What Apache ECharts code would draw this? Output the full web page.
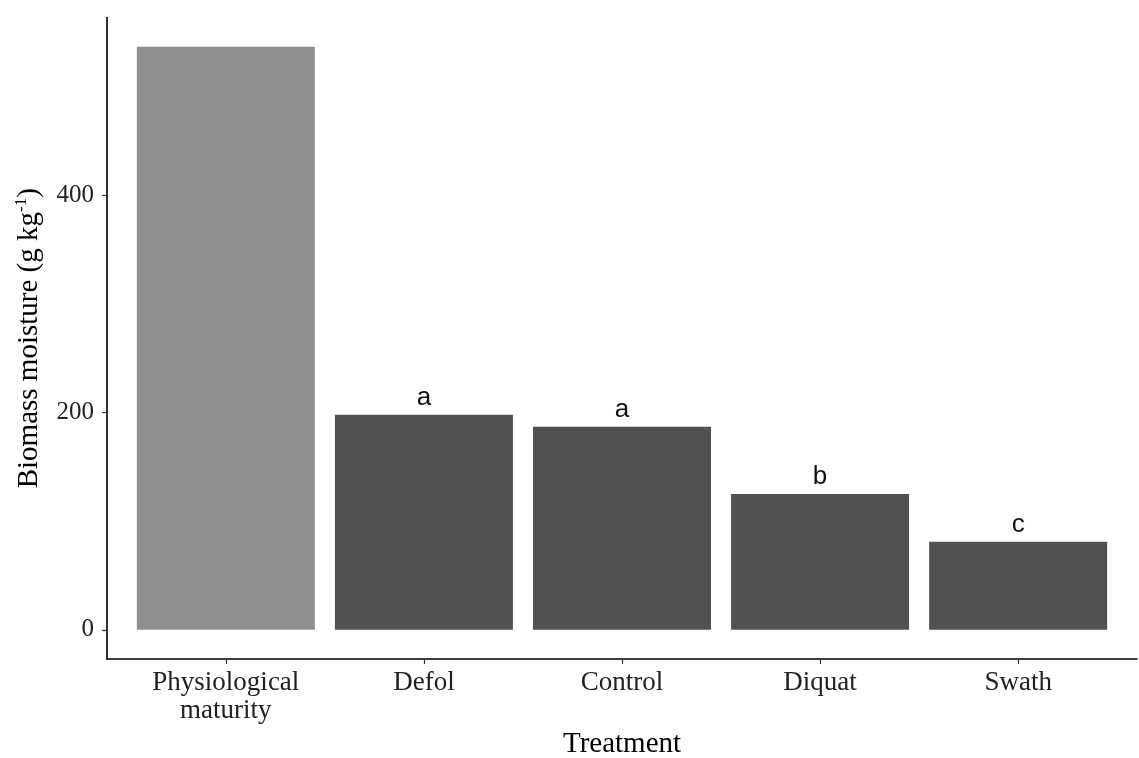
<!DOCTYPE html>
<html>
<head>
<meta charset="utf-8">
<script src="https://cdn.jsdelivr.net/npm/echarts@6/dist/echarts.min.js"></script>
<style>html,body{margin:0;padding:0;background:#fff;}#chart{width:1139px;height:758px;}</style>
</head>
<body>
<div id="chart"></div>
<script>
const categories = ['Physiological\nmaturity', 'Defol', 'Control', 'Diquat', 'Swath'];
const moisture = [537, 198, 187, 125, 81];
const letters = ['', 'a', 'a', 'b', 'c'];
const yTicks = [0, 200, 400];

const serif = '"Liberation Serif", "Times New Roman", serif';
const sans = '"Liberation Sans", Arial, sans-serif';
const xPos = categories.map((c, i) => i + 1);
const yMax = Math.max(...moisture);
const yPad = yMax * 0.05;

const chart = echarts.init(document.getElementById('chart'), null, {renderer: 'canvas'});
chart.setOption({
  animation: false,
  backgroundColor: '#ffffff',
  grid: {left: 107, right: 2, top: 17.5, bottom: 99, containLabel: false, outerBoundsMode: 'none'},
  xAxis: {
    type: 'value', min: 0.4, max: categories.length + 0.6,
    name: 'Treatment', nameLocation: 'middle', nameGap: 66,
    nameTextStyle: {fontFamily: serif, fontSize: 29, color: '#000'},
    splitLine: {show: false},
    axisLine: {onZero: false, lineStyle: {color: '#000', width: 1.6}},
    axisTick: {customValues: xPos, length: 5, lineStyle: {color: '#333', width: 1.2}},
    axisLabel: {customValues: xPos, margin: 10, fontFamily: serif, fontSize: 27, color: '#222', lineHeight: 28,
      formatter: v => categories[Math.round(v) - 1] || ''}
  },
  yAxis: {
    type: 'value', min: -yPad, max: yMax + yPad,
    name: '{a|Biomass moisture (g kg}{s|-1}{a|)}', nameLocation: 'middle', nameGap: 62, nameRotate: 90,
    nameTextStyle: {rich: {
      a: {fontFamily: serif, fontSize: 29, color: '#000', lineHeight: 32},
      s: {fontFamily: serif, fontSize: 17, color: '#000', verticalAlign: 'top', lineHeight: 32, padding: [0, 0, 12, 0]}
    }},
    splitLine: {show: false},
    axisLine: {show: true, onZero: false, lineStyle: {color: '#000', width: 1.6}},
    axisTick: {show: true, customValues: yTicks, length: 5, lineStyle: {color: '#333', width: 1.2}},
    axisLabel: {customValues: yTicks, margin: 13, fontFamily: serif, fontSize: 25, color: '#222'}
  },
  series: [{
    type: 'bar',
    barWidth: 178,
    data: moisture.map((v, i) => ({
      value: [xPos[i], v],
      itemStyle: {color: i === 0 ? '#8f8f8f' : '#515151'},
      label: {show: letters[i] !== '', formatter: letters[i]}
    })),
    label: {position: 'top', distance: 4, fontFamily: sans, fontSize: 26, color: '#111'}
  }]
});
</script>
</body>
</html>
